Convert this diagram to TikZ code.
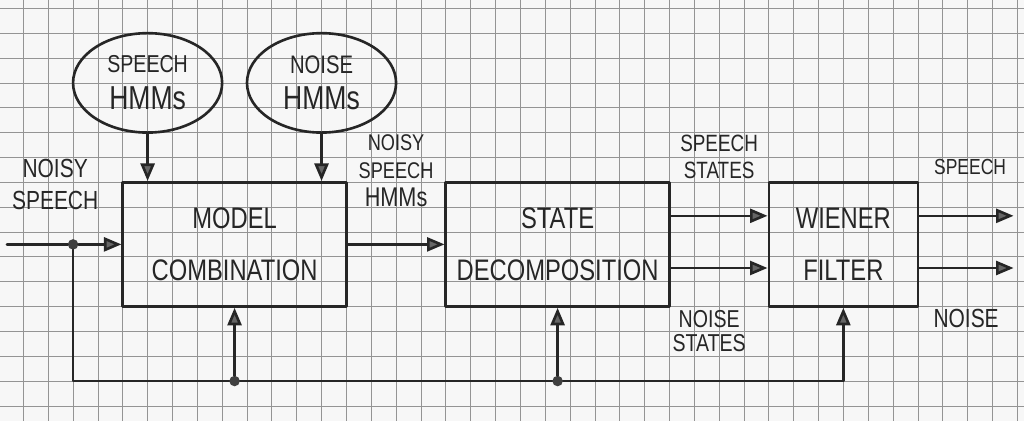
\documentclass[tikz,border=0pt]{standalone}
\usepackage{fontspec}
\setmainfont{Liberation Sans}[FakeStretch=0.8]
\usetikzlibrary{arrows.meta,shapes.geometric}

\tikzset{
	gridline/.style={black!42, line width=0.8pt},
	pen/.style={black!85, line width=3pt, line cap=round, line join=round},
	arr/.style={pen, -{Triangle[length=20pt,width=16pt,fill=black!60]}},
	block/.style={pen, draw, rectangle, minimum height=5cm, align=center, text=black!85, font=\fontsize{34}{59}\selectfont},
	hmm/.style={pen, draw, ellipse, minimum width=6cm, minimum height=4cm, inner sep=0pt, align=center, text=black!85},
	dot/.style={circle, fill=black!75, inner sep=0pt, minimum size=12pt},
	lbl/.style={align=center, text=black!85},
}

\begin{document}
\begin{tikzpicture}[x=1cm, y=-1cm]
			%%%%% PAPER %%%%%
			\useasboundingbox (-0.94,-0.335) rectangle (40.27,16.6);
			\fill[black!3] (-0.94,-0.335) rectangle (40.27,16.6);
			\foreach \c in {0,...,40}
				\draw[gridline] (\c,-0.335) -- (\c,16.6);
			\foreach \r in {0,...,16}
				\draw[gridline] (-0.94,\r) -- (40.27,\r);
			
			%%%%% MODELS %%%%%
			\node[hmm, font=\fontsize{28}{42}\selectfont] (speechhmm) at (5,3) {SPEECH\\{\fontsize{38}{42}\selectfont HMMs}};
			\node[hmm, font=\fontsize{29}{42}\selectfont] (noisehmm) at (12,3) {NOISE\\{\fontsize{38}{42}\selectfont HMMs}};
			
			%%%%% BLOCKS %%%%%
			\node[block, minimum width=9cm] (model) at (8.5,9.5) {MODEL\\COMBINATION};
			\node[block, minimum width=9cm] (state) at (21.5,9.5) {STATE\\DECOMPOSITION};
			\node[block, minimum width=6cm] (wiener) at (33,9.5) {WIENER\\FILTER};
			
			\draw[arr] (speechhmm.south) -- (speechhmm.south |- model.north);
			\draw[arr] (noisehmm.south) -- (noisehmm.south |- model.north);
			
			%%%%% INPUT %%%%%
			\coordinate (source) at (-0.66,9.5);
			\node[dot] (split) at (2,9.5) {};
			\draw[pen] (source) -- (split);
			\draw[arr] (split) -- (model);
			\draw[arr] (model) -- (state);
			
			\draw[arr] ([yshift=1.15cm]state.east) -- ([yshift=1.15cm]wiener.west);
			\draw[arr] ([yshift=-0.95cm]state.east) -- ([yshift=-0.95cm]wiener.west);
			
			%%%%% OUTPUT %%%%%
			\coordinate (outspeech) at (39.85,8.35);
			\coordinate (outnoise) at (39.85,10.45);
			\draw[arr] (wiener.east |- outspeech) -- (outspeech);
			\draw[arr] (wiener.east |- outnoise) -- (outnoise);
			
			%%%%% FEEDBACK %%%%%
			\coordinate (corner) at (33,15);
			\draw[arr] (split) |- (corner) -- (wiener.south);
			\node[dot] (tapmodel) at (model.south |- corner) {};
			\node[dot] (tapstate) at (state.south |- corner) {};
			\draw[arr] (tapmodel) -- (model.south);
			\draw[arr] (tapstate) -- (state.south);
			
			%%%%% LABELS %%%%%
			\node[lbl, font=\fontsize{30}{37}\selectfont] (lblin) at (1.28,7.08) {NOISY\\SPEECH};
			\node[lbl, font=\fontsize{26}{32}\selectfont] (lblmix) at (15.0,6.54) {NOISY\\SPEECH\\{\fontsize{31}{32}\selectfont HMMs}};
			\node[lbl, font=\fontsize{27}{31}\selectfont] (lblspst) at (28.0,5.98) {SPEECH\\STATES};
			\node[lbl, font=\fontsize{28}{28}\selectfont] (lblnost) at (27.6,12.98) {NOISE\\STATES};
			\node[lbl, font=\fontsize{25}{30}\selectfont] (lblsp) at (38.1,6.4) {SPEECH};
			\node[lbl, font=\fontsize{30}{30}\selectfont] (lblno) at (37.94,12.5) {NOISE};
			%%%%% END %%%%%
\end{tikzpicture}
\end{document}
